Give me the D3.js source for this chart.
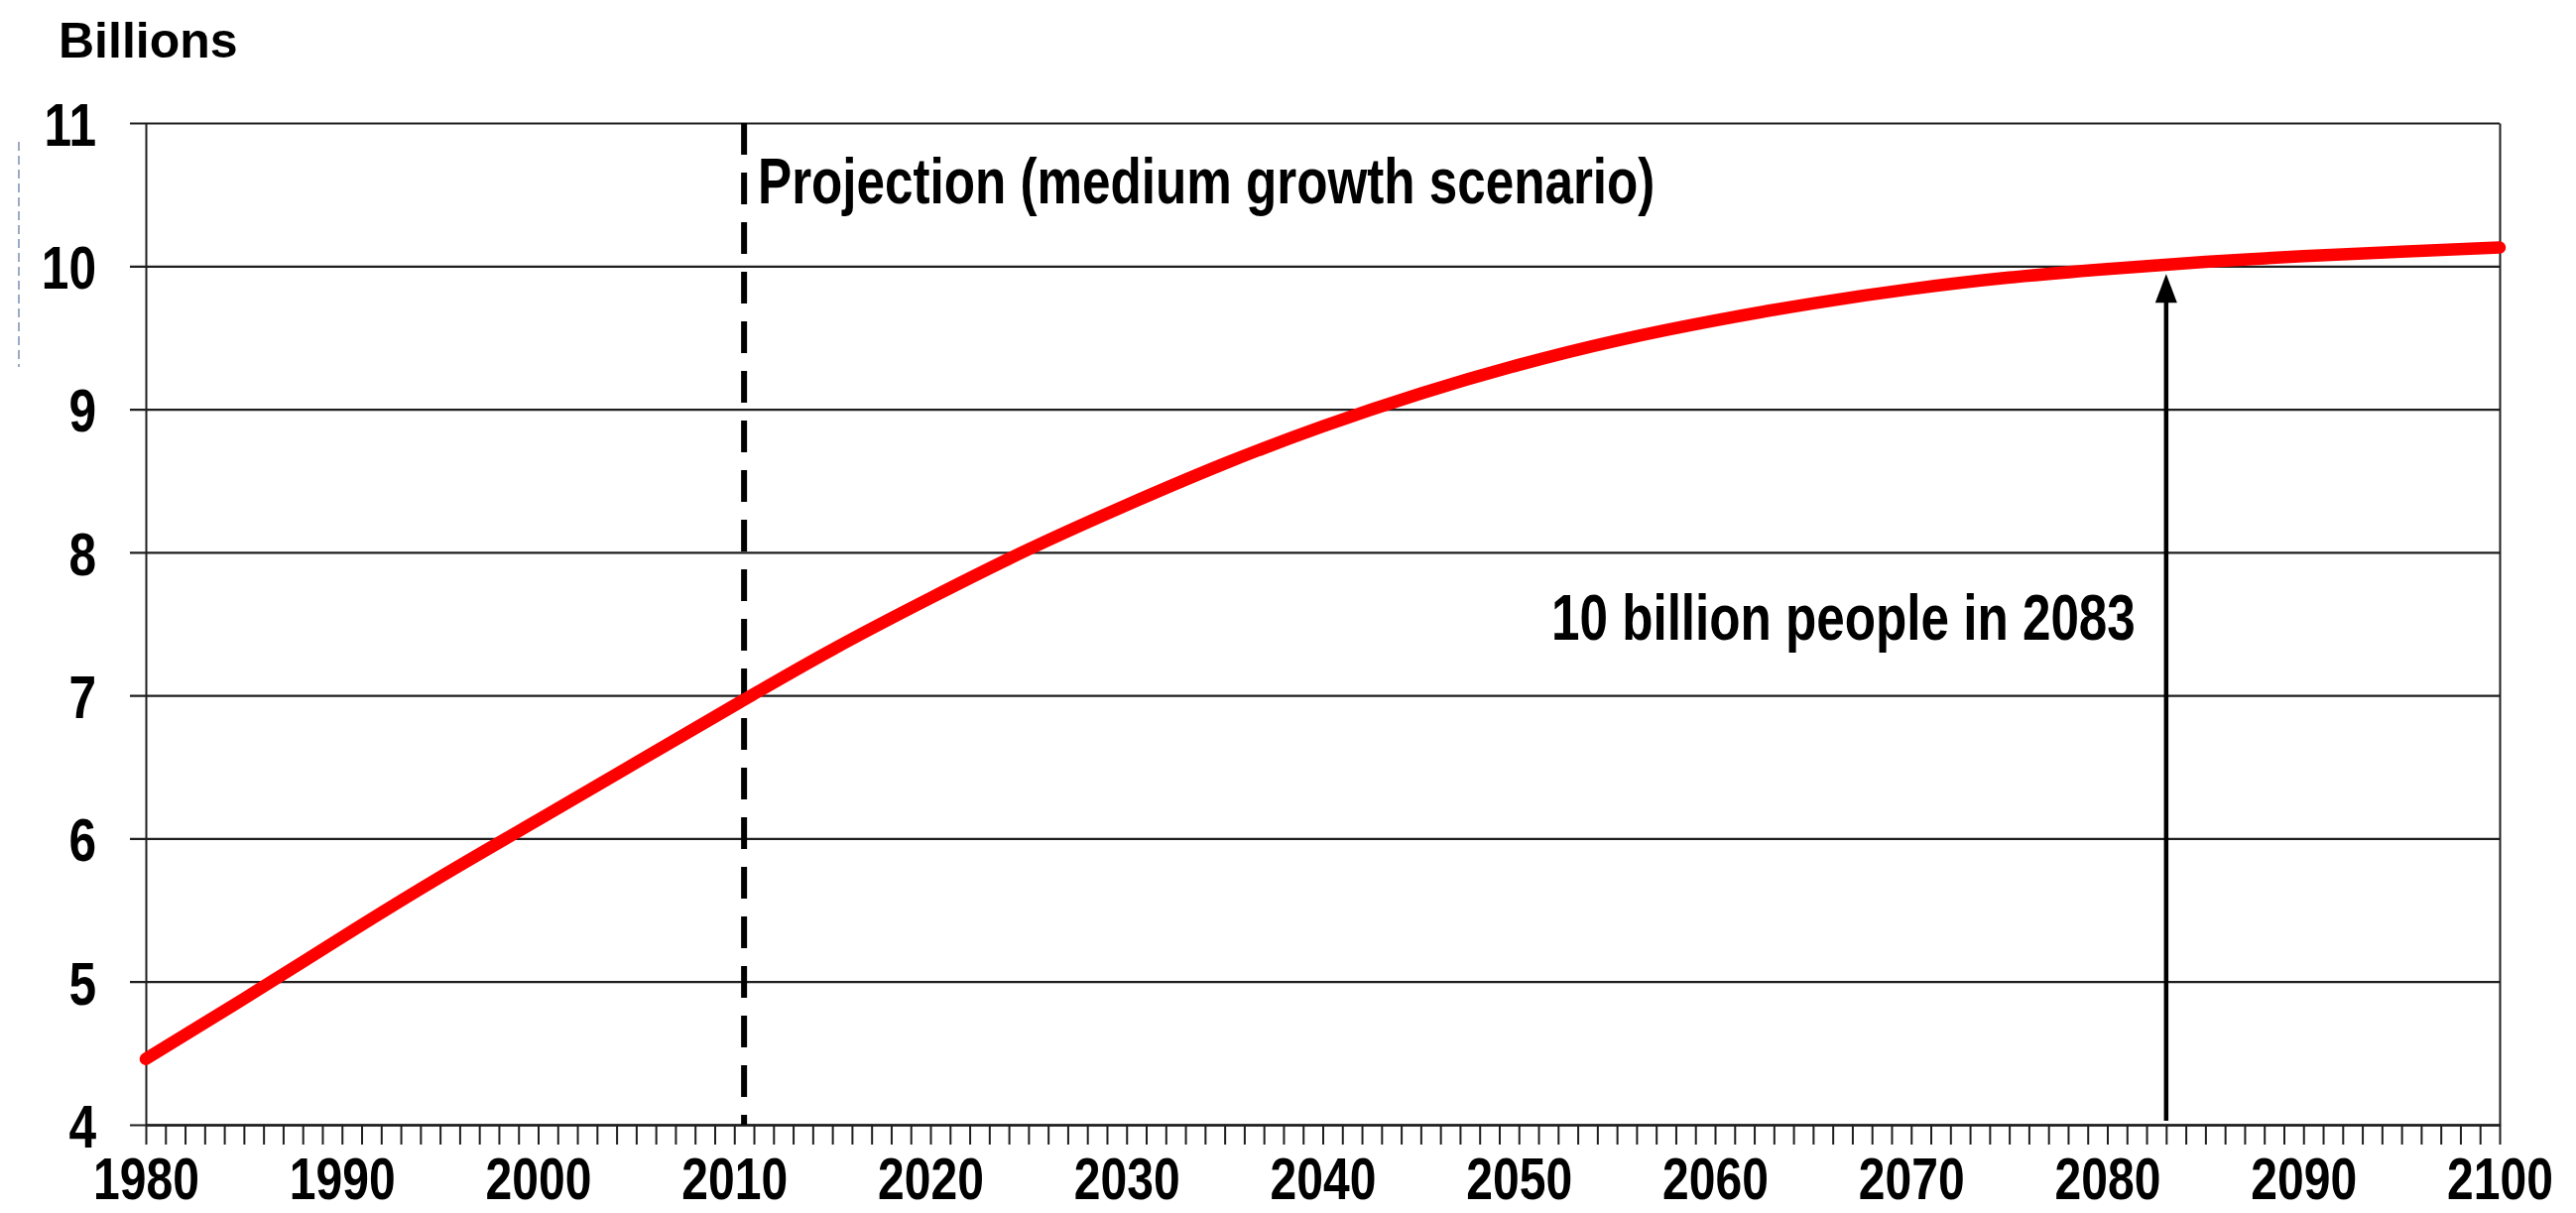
<!DOCTYPE html>
<html><head><meta charset="utf-8">
<script src="https://cdn.jsdelivr.net/npm/d3@7"></script>
<style>
html,body{margin:0;padding:0;background:#fff;}
svg{display:block;background:#fff;}
text{font-family:"Liberation Sans",Arial,Helvetica,sans-serif;font-weight:bold;fill:#000;}
</style>
</head><body>
<svg id="chart" width="2597" height="1223"></svg>
<script>
// ---- data ----
const years = [1980,1985,1990,1995,2000,2005,2010,2015,2020,2025,2030,2035,2040,2045,2050,2055,2060,2065,2070,2075,2080,2085,2090,2095,2100];
const population = [4.46,4.88,5.31,5.73,6.13,6.53,6.93,7.32,7.68,8.02,8.33,8.62,8.88,9.11,9.31,9.48,9.62,9.74,9.84,9.92,9.98,10.03,10.07,10.10,10.13];
const yTickValues = [4,5,6,7,8,9,10,11];
const xLabelYears = [1980,1990,2000,2010,2020,2030,2040,2050,2060,2070,2080,2090,2100];
const projectionStartYear = 2010.5;
const milestoneYear = 2083;
const milestoneValue = 10;
const unitLabel = "Billions";
const projectionLabel = "Projection (medium growth scenario)";
const milestoneLabel = "10 billion people in 2083";

// ---- layout ----
const m = {left:147, right:2520, top:124, bottom:1134};
const x = d3.scaleLinear().domain([1980,2100]).range([m.left,m.right]);
const y = d3.scaleLinear().domain([4,11]).range([m.bottom,m.top]);
const svg = d3.select("#chart");
const NARROW = "scale(0.8,1)";
const LINE = "#1e1e1e";

// faint dotted mark at far left (as in the source)
svg.append("line").attr("x1",19).attr("x2",19).attr("y1",143).attr("y2",370)
  .attr("stroke","#7d8fae").attr("stroke-width",1.5).attr("stroke-dasharray","9,5");

// y axis with gridlines
const gy = svg.append("g").attr("transform",`translate(${m.left},0)`)
  .call(d3.axisLeft(y).tickValues(yTickValues).tickSize(16).tickSizeOuter(0).tickPadding(0).tickFormat(d3.format("d")));
gy.select(".domain").attr("stroke",LINE).attr("stroke-width",2);
gy.selectAll(".tick line").attr("x1",-16).attr("x2",m.right-m.left).attr("stroke",LINE).attr("stroke-width",2.2);
gy.selectAll(".tick text").attr("x",0).attr("dy","0.36em")
  .attr("transform","translate(-50,0) " + NARROW).style("font-size","62px");

// right border
svg.append("g").attr("transform",`translate(${m.right},0)`)
  .call(d3.axisRight(y).tickValues([]).tickSizeOuter(0))
  .select(".domain").attr("stroke",LINE).attr("stroke-width",2);

// x axis with yearly ticks
const gx = svg.append("g").attr("transform",`translate(0,${m.bottom})`)
  .call(d3.axisBottom(x).tickValues(d3.range(1980,2101)).tickSize(20).tickSizeOuter(0)
    .tickFormat(d => xLabelYears.includes(d) ? String(d) : ""));
gx.select(".domain").attr("stroke",LINE).attr("stroke-width",2.4);
gx.selectAll(".tick line").attr("stroke",LINE).attr("stroke-width",2);
gx.selectAll(".tick text").attr("y",0).attr("dy",0)
  .attr("transform","translate(0,75) " + NARROW).style("font-size","60px");

// projection dashed line
svg.append("line")
  .attr("x1",x(projectionStartYear)).attr("x2",x(projectionStartYear))
  .attr("y1",y(11)).attr("y2",y(4))
  .attr("stroke","#000").attr("stroke-width",6).attr("stroke-dasharray","32,18");

// population line
const pts = years.map((yr,i)=>({year:yr,value:population[i]}));
svg.append("path").datum(pts)
  .attr("d", d3.line().x(d=>x(d.year)).y(d=>y(d.value)).curve(d3.curveNatural))
  .attr("fill","none").attr("stroke","#ff0000").attr("stroke-width",12.5)
  .attr("stroke-linecap","round").attr("stroke-linejoin","round");

// milestone arrow
const ax = x(milestoneYear), tipY = y(milestoneValue)+8;
svg.append("line").attr("x1",ax).attr("x2",ax).attr("y1",y(4)-4).attr("y2",tipY+20)
  .attr("stroke","#000").attr("stroke-width",4.5);
svg.append("path").attr("d",`M${ax},${tipY} L${ax-11},${tipY+29} L${ax+11},${tipY+29} Z`).attr("fill","#000");

// texts
svg.append("text").attr("x",59).attr("y",58).style("font-size","50px").text(unitLabel);
svg.append("text").attr("transform",`translate(764,205) ${NARROW}`).style("font-size","64px").text(projectionLabel);
svg.append("text").attr("transform",`translate(1564,645) ${NARROW}`).style("font-size","64px").text(milestoneLabel);
</script>
</body></html>
